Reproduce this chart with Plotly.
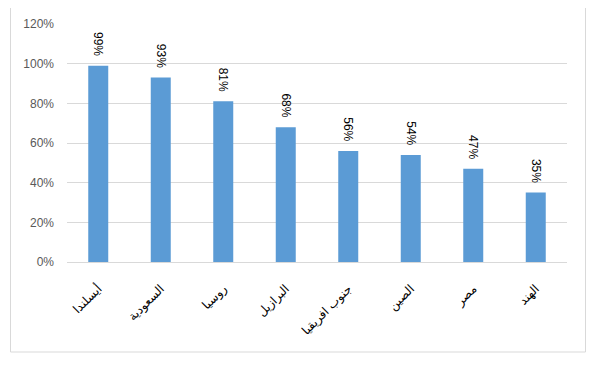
import plotly.graph_objects as go

categories = ["أيسلندا", "السعودية", "روسيا", "البرازيل", "جنوب افريقيا", "الصين", "مصر", "الهند"]
values = [99, 93, 81, 68, 56, 54, 47, 35]
labels = [f"{v}%" for v in values]
y_ticks = [0, 20, 40, 60, 80, 100, 120]
y_tick_labels = [f"{t}%" for t in y_ticks]

# page has an 8px body margin, so the figure is offset by 8px
W, H = 590, 357
L, R, T, B = 59, 31, 16, 103

fig = go.Figure()
fig.add_trace(go.Bar(
    x=categories, y=values,
    marker=dict(color="#5B9BD5", line=dict(width=0)),
    text=[s + "\u00a0\u00a0" for s in labels], textposition="outside", textangle=90,
    constraintext="none",
    textfont=dict(family="Liberation Sans, DejaVu Sans", size=12, color="#000000"),
    cliponaxis=False,
))

fig.update_layout(
    width=W, height=H,
    margin=dict(l=L, r=R, t=T, b=B, autoexpand=False),
    paper_bgcolor="white", plot_bgcolor="white",
    bargap=0.68, showlegend=False,
    xaxis=dict(
        tickangle=-45,
        tickfont=dict(family="DejaVu Sans, Liberation Sans", size=12, color="#000000"),
        showgrid=False, showline=True, linecolor="#d9d9d9", linewidth=1,
        ticks="", ticklen=0, ticklabelstandoff=14,
    ),
    yaxis=dict(
        range=[0, 120], tickvals=y_ticks, ticktext=y_tick_labels,
        tickfont=dict(family="Liberation Sans", size=12, color="#595959"),
        showgrid=True, gridcolor="#d9d9d9", gridwidth=1,
        zeroline=False, showline=False, ticks="", ticklabelstandoff=12,
    ),
    shapes=[dict(
        type="rect", xref="paper", yref="paper",
        x0=(10.5 - 67) / 500, x1=(585.5 - 67) / 500,
        y0=(262 - 352) / 238, y1=1 + (24 - 7) / 238,
        line=dict(color="#d9d9d9", width=1), fillcolor="rgba(0,0,0,0)",
        layer="below",
    )],
)

fig.write_html("out.html")
